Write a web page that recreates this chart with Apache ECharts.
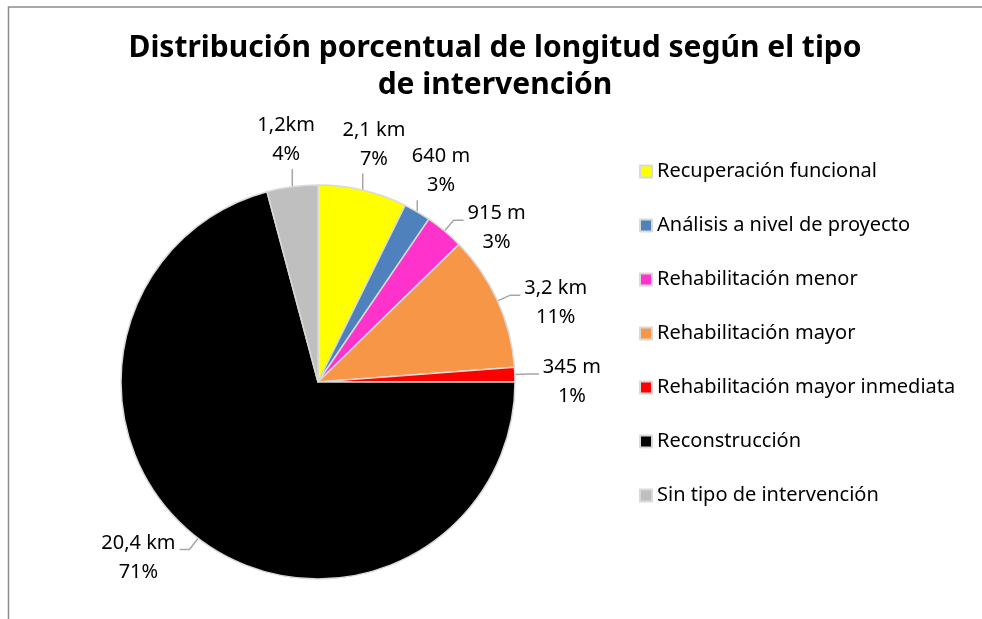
<!DOCTYPE html>
<html>
<head>
<meta charset="utf-8">
<script src="https://cdn.jsdelivr.net/npm/echarts@6/dist/echarts.min.js"></script>
<style>
    html, body { margin: 0; padding: 0; background: #fff; }
    #chart { width: 982px; height: 619px; }
</style>
</head>
<body>
<div id="chart"></div>
<script>
// 各類介入的名稱、長度(km)、標籤文字與顏色
const categories = [
    "Recuperación funcional",
    "Análisis a nivel de proyecto",
    "Rehabilitación menor",
    "Rehabilitación mayor",
    "Rehabilitación mayor inmediata",
    "Reconstrucción",
    "Sin tipo de intervención",
];
const lengthsKm = [2.1, 0.64, 0.915, 3.2, 0.345, 20.4, 1.2];
const lengthLabels = ["2,1 km", "640 m", "915 m", "3,2 km", "345 m", "20,4 km", "1,2km"];
const percentLabels = ["7%", "3%", "3%", "11%", "1%", "71%", "4%"];
const sliceColors = ["#ffff00", "#4f81bd", "#ff33cc", "#f79646", "#ff0000", "#000000", "#bfbfbf"];

const fontFamily = "'Noto Sans', 'Open Sans', sans-serif";
const pieCenter = [318, 382];
const pieRadius = 197;

const chart = echarts.init(document.getElementById("chart"));

// 仿 Excel 的外側標籤：文字置中；接近上下方向的放在扇形外上/下方，
// 其他放在側邊（先徑向一小段，再水平一小段）；重疊時水平推開
const placedLabels = [];
function excelLabelLayout(params) {
    if (params.dataIndex === 0) placedLabels.length = 0;
    const p = params.labelLinePoints[0];
    let dx = p[0] - pieCenter[0];
    let dy = p[1] - pieCenter[1];
    const len = Math.sqrt(dx * dx + dy * dy) || 1;
    dx /= len;
    dy /= len;
    const w = params.labelRect.width;
    const h = params.labelRect.height;
    const side = dx >= 0 ? 1 : -1;
    const onSide = Math.abs(dy) < 0.8;

    let x, y, radialEnd;
    if (onSide) {
        radialEnd = [p[0] + dx * 14, p[1] + dy * 14];
        x = radialEnd[0] + side * (10 + 4 + w / 2);
        y = radialEnd[1] + 8;
    } else {
        const gap = 18;
        x = p[0] + dx * gap + (dx * w) / 2;
        y = p[1] + dy * gap + (dy * h) / 2;
    }
    placedLabels.forEach((r) => {
        if (Math.abs(x - r.x) < (w + r.w) / 2 + 2 && Math.abs(y - r.y) < (h + r.h) / 2 - 4) {
            x = r.x + side * ((w + r.w) / 2 + 2);
        }
    });
    placedLabels.push({ x: x, y: y, w: w, h: h });

    // 引導線
    let points;
    if (onSide) {
        const edgeX = x - side * (w / 2 + 4);
        points = [p, radialEnd, [edgeX, radialEnd[1]]];
    } else {
        const left = x - w / 2 - 4;
        const right = x + w / 2 + 4;
        const top = y - h / 2;
        const bottom = y + h / 2;
        const ex = Math.min(Math.max(p[0], left), right);
        const ey = Math.min(Math.max(p[1], top), bottom);
        points = [p, [ex, ey], [ex, ey]];
    }
    return {
        x: x,
        y: y,
        align: "center",
        verticalAlign: "middle",
        hideOverlap: false,
        labelLinePoints: points,
    };
}

const option = {
    backgroundColor: "#fff",
    animation: false,
    title: {
        text: "Distribución porcentual de longitud según el tipo\nde intervención",
        left: 490,
        textAlign: "center",
        top: 25,
        textStyle: {
            fontFamily: fontFamily,
            fontSize: 30,
            fontWeight: "bold",
            lineHeight: 37,
            color: "#000",
        },
    },
    legend: {
        orient: "vertical",
        left: 634,
        top: 156,
        itemWidth: 12,
        itemHeight: 12,
        itemGap: 33,
        icon: "rect",
        data: categories,
        textStyle: {
            fontFamily: fontFamily,
            fontSize: 20,
            lineHeight: 21,
            color: "#000",
        },
    },
    graphic: [
        {
            type: "polyline",
            shape: { points: [[8.5, 619], [8.5, 7], [982, 7]] },
            style: { stroke: "#8c8c8c", lineWidth: 1.5, fill: null },
        },
    ],
    series: [
        {
            type: "pie",
            center: pieCenter,
            radius: pieRadius,
            startAngle: 90,
            clockwise: true,
            avoidLabelOverlap: false,
            itemStyle: {
                borderColor: "#d9d9d9",
                borderWidth: 1.5,
            },
            label: {
                position: "outside",
                fontFamily: fontFamily,
                fontSize: 20,
                lineHeight: 29,
                color: "#000",
                formatter: (p) => lengthLabels[p.dataIndex] + "\n" + percentLabels[p.dataIndex],
            },
            labelLine: {
                length: 12,
                length2: 10,
                lineStyle: { color: "#a6a6a6", width: 1.5 },
            },
            labelLayout: excelLabelLayout,
            emphasis: { disabled: true },
            data: categories.map((name, i) => ({
                name: name,
                value: lengthsKm[i],
                itemStyle: { color: sliceColors[i] },
            })),
        },
    ],
};

chart.setOption(option);
</script>
</body>
</html>
